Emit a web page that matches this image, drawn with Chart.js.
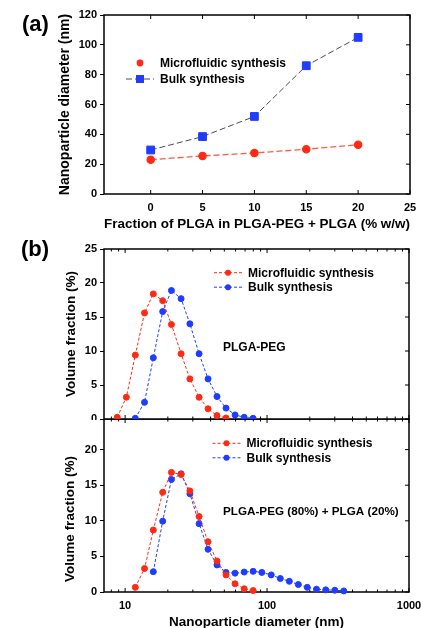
<!DOCTYPE html>
<html>
<head>
<meta charset="utf-8">
<script src="https://cdn.jsdelivr.net/npm/chart.js@4.4.1/dist/chart.umd.min.js"></script>
<style>
html,body{margin:0;padding:0;background:#fff;overflow:hidden;width:421px;height:628px;}
.box{position:absolute;left:0;width:421px;}
</style>
</head>
<body>
<div class="box" style="top:0;height:232px"><canvas id="ca"></canvas></div>
<div class="box" style="top:230px;height:190px"><canvas id="cb1"></canvas></div>
<div class="box" style="top:419px;height:209px"><canvas id="cb2"></canvas></div>
<script>
// ---------- data ----------
const fracPLGA = [0, 5, 10, 15, 20];
const microDiam = [23, 25.5, 27.5, 30, 33];
const bulkDiam = [29.5, 38.5, 52, 86, 105];
const fracTicks = [0, 5, 10, 15, 20, 25];
const diamTicks = [0, 20, 40, 60, 80, 100, 120];

const topMicroSize = [8.8, 10.2, 11.8, 13.7, 15.8, 18.4, 21.2, 24.8, 28.6, 33.2, 38.4, 44.4, 51.4];
const topMicroVol  = [0.25, 3.2, 9.4, 15.6, 18.4, 17.4, 13.9, 9.6, 5.9, 3.2, 1.5, 0.5, 0.15];
const topBulkSize  = [11.8, 13.7, 15.8, 18.4, 21.2, 24.8, 28.6, 33.2, 38.4, 44.4, 51.4, 59.5, 69, 79.8];
const topBulkVol   = [0.1, 2.45, 9.0, 15.8, 18.9, 17.7, 14.0, 9.6, 5.9, 3.3, 1.6, 0.6, 0.25, 0.1];
const botMicroSize = [11.8, 13.7, 15.8, 18.4, 21.2, 24.8, 28.6, 33.2, 38.4, 44.4, 51.4, 59.5, 69, 79.8];
const botMicroVol  = [0.65, 3.3, 8.7, 14.0, 16.8, 16.5, 14.2, 10.6, 7.05, 4.35, 2.4, 1.15, 0.45, 0.2];
const botBulkSize  = [15.8, 18.4, 21.2, 24.8, 28.6, 33.2, 38.4, 44.4, 51.4, 59.5, 69, 79.8, 91.9, 107, 124, 143.5, 166, 192, 223, 259, 300, 347];
const botBulkVol   = [2.85, 9.95, 15.8, 16.6, 13.8, 9.6, 6.0, 3.8, 2.75, 2.65, 2.8, 2.9, 2.75, 2.4, 1.9, 1.5, 1.05, 0.65, 0.4, 0.3, 0.25, 0.15];

const sizeMajorTicks = [10, 100, 1000];
const sizeMinorTicks = [8, 9, 20, 30, 40, 50, 60, 70, 80, 90, 200, 300, 400, 500, 600, 700, 800, 900];
const volTicksTop = [0, 5, 10, 15, 20, 25];
const volTicksBot = [0, 5, 10, 15, 20];

// ---------- styling ----------
const FONT = "'Liberation Sans', Arial, sans-serif";
Chart.defaults.font.family = FONT;
Chart.defaults.color = '#000';
const RED = '#ff2a14';
const BLUE = '#1f3cff';

const pts = (xs, ys) => xs.map((x, i) => ({x: x, y: ys[i]}));

function ln(ctx, x1, y1, x2, y2) { ctx.beginPath(); ctx.moveTo(x1, y1); ctx.lineTo(x2, y2); ctx.stroke(); }

function drawMarker(ctx, style, x, y, r, color) {
  ctx.fillStyle = color;
  if (style === 'rect') { ctx.fillRect(x - r, y - r, 2 * r, 2 * r); }
  else { ctx.beginPath(); ctx.arc(x, y, r, 0, Math.PI * 2); ctx.fill(); }
}

const framePlugin = {
  id: 'frame',
  beforeDatasetsDraw(chart, args, o) {
    const {ctx, chartArea: a, scales} = chart;
    ctx.save();
    ctx.strokeStyle = '#000';
    ctx.lineWidth = 1;
    const xs = scales.x, ys = scales.y;
    (o.xMajor || []).forEach(v => {
      const p = xs.getPixelForValue(v);
      ln(ctx, p, a.bottom, p, a.bottom - 4);
      ln(ctx, p, a.top, p, a.top + 4);
    });
    (o.xMinor || []).forEach(v => {
      const p = xs.getPixelForValue(v);
      if (p < a.left || p > a.right) return;
      ln(ctx, p, a.bottom, p, a.bottom - 2.5);
      ln(ctx, p, a.top, p, a.top + 2.5);
    });
    (o.yMajor || []).forEach(v => {
      const p = ys.getPixelForValue(v);
      ln(ctx, a.right, p, a.right - 4, p);
    });
    ctx.lineWidth = 1.5;
    ctx.strokeRect(a.left, a.top, a.right - a.left, a.bottom - a.top);
    ctx.restore();
  },
  afterDraw(chart, args, o) {
    const ctx = chart.ctx;
    ctx.save();
    (o.legend || []).forEach(it => {
      if (it.lineFrom !== undefined) {
        ctx.strokeStyle = it.lineColor;
        ctx.lineWidth = it.lineWidth || 1;
        ctx.setLineDash(it.dash || []);
        ln(ctx, it.lineFrom, it.y, it.lineTo, it.y);
        ctx.setLineDash([]);
      }
      drawMarker(ctx, it.marker, it.mx, it.y, it.r, it.color);
      ctx.fillStyle = '#000';
      ctx.font = 'bold ' + it.size + 'px ' + FONT;
      ctx.textAlign = 'left';
      ctx.textBaseline = 'middle';
      ctx.fillText(it.text, it.tx, it.y + 0.5);
    });
    (o.texts || []).forEach(t => {
      ctx.save();
      ctx.fillStyle = '#000';
      ctx.font = 'bold ' + t.size + 'px ' + FONT;
      ctx.textAlign = t.align || 'left';
      ctx.textBaseline = 'middle';
      ctx.translate(t.x, t.y);
      if (t.rot) ctx.rotate(t.rot);
      ctx.fillText(t.text, 0, 0);
      ctx.restore();
    });
    ctx.restore();
  }
};

function setTicks(list) { return scale => { scale.ticks = list.map(v => ({value: v})); }; }

// ---------- chart (a) ----------
new Chart(document.getElementById('ca'), {
  type: 'line',
  plugins: [framePlugin],
  data: {
    datasets: [
      {label: 'Microfluidic synthesis', data: pts(fracPLGA, microDiam), borderColor: '#ff5a48', borderWidth: 1.3,
       borderDash: [6, 3], pointStyle: 'circle', pointRadius: 3.6, pointBackgroundColor: RED, pointBorderColor: RED, clip: false},
      {label: 'Bulk synthesis', data: pts(fracPLGA, bulkDiam), borderColor: '#4a4a4a', borderWidth: 1,
       borderDash: [6, 3], pointStyle: 'rect', pointRadius: 5.5, pointBackgroundColor: BLUE, pointBorderColor: BLUE, clip: false}
    ]
  },
  options: {
    responsive: true, maintainAspectRatio: false, animation: false,
    layout: {autoPadding: false, padding: {top: 15, right: 11, left: 0, bottom: 0}},
    plugins: {
      legend: {display: false}, tooltip: {enabled: false},
      frame: {
        xMajor: fracTicks, yMajor: diamTicks,
        legend: [
          {text: 'Microfluidic synthesis', marker: 'circle', r: 3.4, color: RED, mx: 140, y: 63, tx: 160, size: 12},
          {text: 'Bulk synthesis', marker: 'rect', r: 4, color: BLUE, mx: 140, y: 79, tx: 160, size: 12,
           lineFrom: 126, lineTo: 154, lineColor: '#4a4a4a', dash: [6, 3]}
        ],
        texts: [{text: '(a)', x: 22, y: 25, size: 22}]
      }
    },
    scales: {
      x: {
        type: 'linear', min: -4.5, max: 25,
        afterBuildTicks: setTicks(fracTicks),
        afterFit: s => { s.height = 38; s.paddingLeft = 0; s.paddingRight = 0; },
        grid: {display: false, drawTicks: false}, border: {display: false},
        ticks: {font: {size: 11, weight: 'bold'}, padding: 7, maxRotation: 0},
        title: {display: true, text: 'Fraction of PLGA in PLGA-PEG + PLGA (% w/w)', font: {size: 13.5, weight: 'bold'}, padding: {top: 0, bottom: 0}}
      },
      y: {
        type: 'linear', min: 0, max: 120,
        afterBuildTicks: setTicks(diamTicks),
        afterFit: s => { s.width = 104; s.paddingTop = 0; s.paddingBottom = 0; },
        grid: {drawOnChartArea: false, drawTicks: true, tickLength: 4, color: '#000'}, border: {display: false},
        ticks: {font: {size: 11, weight: 'bold'}, padding: 3},
        title: {display: true, text: 'Nanoparticle diameter (nm)', font: {size: 14, weight: 'bold'}, padding: {top: 57, bottom: 0}}
      }
    }
  }
});

// ---------- chart (b) ----------
function distOptions(cfg) {
  return {
    responsive: true, maintainAspectRatio: false, animation: false,
    layout: {autoPadding: false, padding: cfg.padding},
    plugins: {
      legend: {display: false}, tooltip: {enabled: false},
      frame: {
        xMajor: sizeMajorTicks, xMinor: sizeMinorTicks, yMajor: cfg.yTicks,
        legend: [
          {text: 'Microfluidic synthesis', marker: 'circle', r: 3, color: RED, mx: cfg.lx + 14, y: cfg.ly, tx: cfg.lx + 34, size: 12,
           lineFrom: cfg.lx, lineTo: cfg.lx + 30, lineColor: RED, dash: [3, 2]},
          {text: 'Bulk synthesis', marker: 'circle', r: 3, color: BLUE, mx: cfg.lx + 14, y: cfg.ly + 14.5, tx: cfg.lx + 34, size: 12,
           lineFrom: cfg.lx, lineTo: cfg.lx + 30, lineColor: BLUE, dash: [3, 2]}
        ],
        texts: cfg.texts
      }
    },
    scales: {
      x: {
        type: 'logarithmic', min: 7.1, max: 1000, display: cfg.showX,
        afterBuildTicks: setTicks(sizeMajorTicks),
        afterFit: s => { s.height = cfg.showX ? 36 : 0; s.paddingLeft = 0; s.paddingRight = 0; },
        grid: {display: false, drawTicks: false}, border: {display: false},
        ticks: {font: {size: 11, weight: 'bold'}, padding: 7, maxRotation: 0, autoSkip: false, callback: v => String(v)},
        title: {display: cfg.showX, text: 'Nanoparticle diameter (nm)', font: {size: 13.5, weight: 'bold'}, padding: {top: 0, bottom: -2}}
      },
      y: {
        type: 'linear', min: 0, max: cfg.yMax,
        afterBuildTicks: setTicks(cfg.yTicks),
        afterFit: s => { s.width = 104; s.paddingTop = 0; s.paddingBottom = 0; },
        grid: {drawOnChartArea: false, drawTicks: true, tickLength: 4, color: '#000'}, border: {display: false},
        ticks: {font: {size: 11, weight: 'bold'}, padding: 3},
        title: {display: cfg.yTitle, text: 'Volume fraction (%)', font: {size: 13.5, weight: 'bold'}, padding: {top: 63, bottom: 0}}
      }
    }
  };
}

function distData(ms, mv, bs, bv) {
  return {
    datasets: [
      {label: 'Microfluidic synthesis', data: pts(ms, mv), borderColor: RED, borderWidth: 1, borderDash: [3, 2],
       pointRadius: 3, pointBackgroundColor: RED, pointBorderColor: RED, clip: false},
      {label: 'Bulk synthesis', data: pts(bs, bv), borderColor: BLUE, borderWidth: 1, borderDash: [3, 2],
       pointRadius: 3, pointBackgroundColor: BLUE, pointBorderColor: BLUE, clip: false}
    ]
  };
}

new Chart(document.getElementById('cb1'), {
  type: 'line',
  plugins: [framePlugin],
  data: distData(topMicroSize, topMicroVol, topBulkSize, topBulkVol),
  options: distOptions({
    padding: {top: 19, right: 12, left: 0, bottom: 1}, yMax: 25, yTicks: volTicksTop, showX: false, yTitle: true,
    lx: 214, ly: 42.7,
    texts: [{text: '(b)', x: 21, y: 20, size: 22}, {text: 'PLGA-PEG', x: 223, y: 117.3, size: 12}]
  })
});

new Chart(document.getElementById('cb2'), {
  type: 'line',
  plugins: [framePlugin],
  data: distData(botMicroSize, botMicroVol, botBulkSize, botBulkVol),
  options: distOptions({
    padding: {top: 0, right: 12, left: 0, bottom: 0}, yMax: 24.3, yTicks: volTicksBot, showX: true, yTitle: false,
    lx: 212.5, ly: 24.3,
    texts: [{text: 'PLGA-PEG (80%) + PLGA (20%)', x: 223, y: 92.7, size: 11.7},
            {text: 'Volume fraction (%)', x: 70, y: 100, size: 13.5, rot: -Math.PI / 2, align: 'center'}]
  })
});
</script>
</body>
</html>
